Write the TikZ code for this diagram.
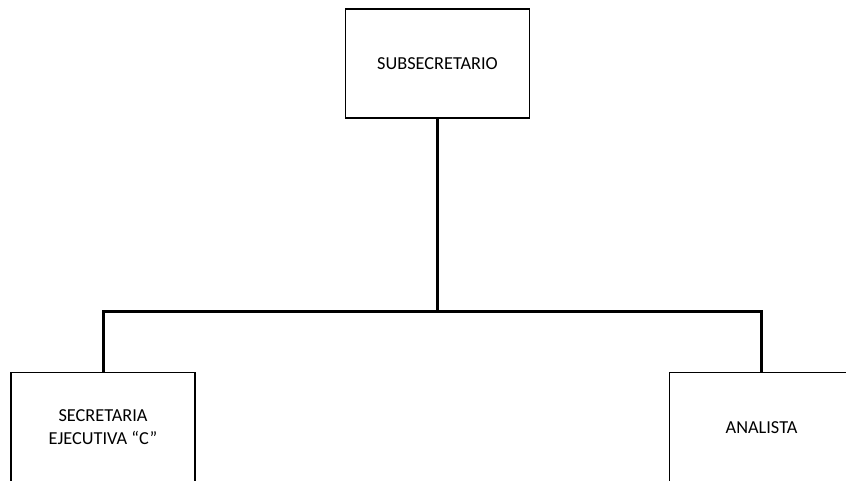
\documentclass[tikz,border=0pt]{standalone}
\usepackage{fontspec}
\setmainfont{Carlito}
\begin{document}
\begin{tikzpicture}[x=1pt,y=-1pt,
  box/.style={draw=black,line width=1.3pt,fill=white,minimum width=184pt,minimum height=109pt,inner sep=0pt,align=center,font=\fontsize{18.3pt}{23pt}\selectfont},
  conn/.style={draw=black,line width=3pt}]
\useasboundingbox (0,0) rectangle (846,481);
\clip (0,0) rectangle (846,481);
\node[box] (top) at (437.5,63.5) {SUBSECRETARIO};
\node[box,anchor=north] (sec) at (103,372) {SECRETARIA\\EJECUTIVA “C”};
\node[box,anchor=north] (ana) at (761.5,372) {ANALISTA};
\coordinate (j) at (437.5,311.5);
\draw[conn] (top.south) -- (j);
\draw[conn] (sec.north) |- (j) -| (ana.north);
\end{tikzpicture}
\end{document}
